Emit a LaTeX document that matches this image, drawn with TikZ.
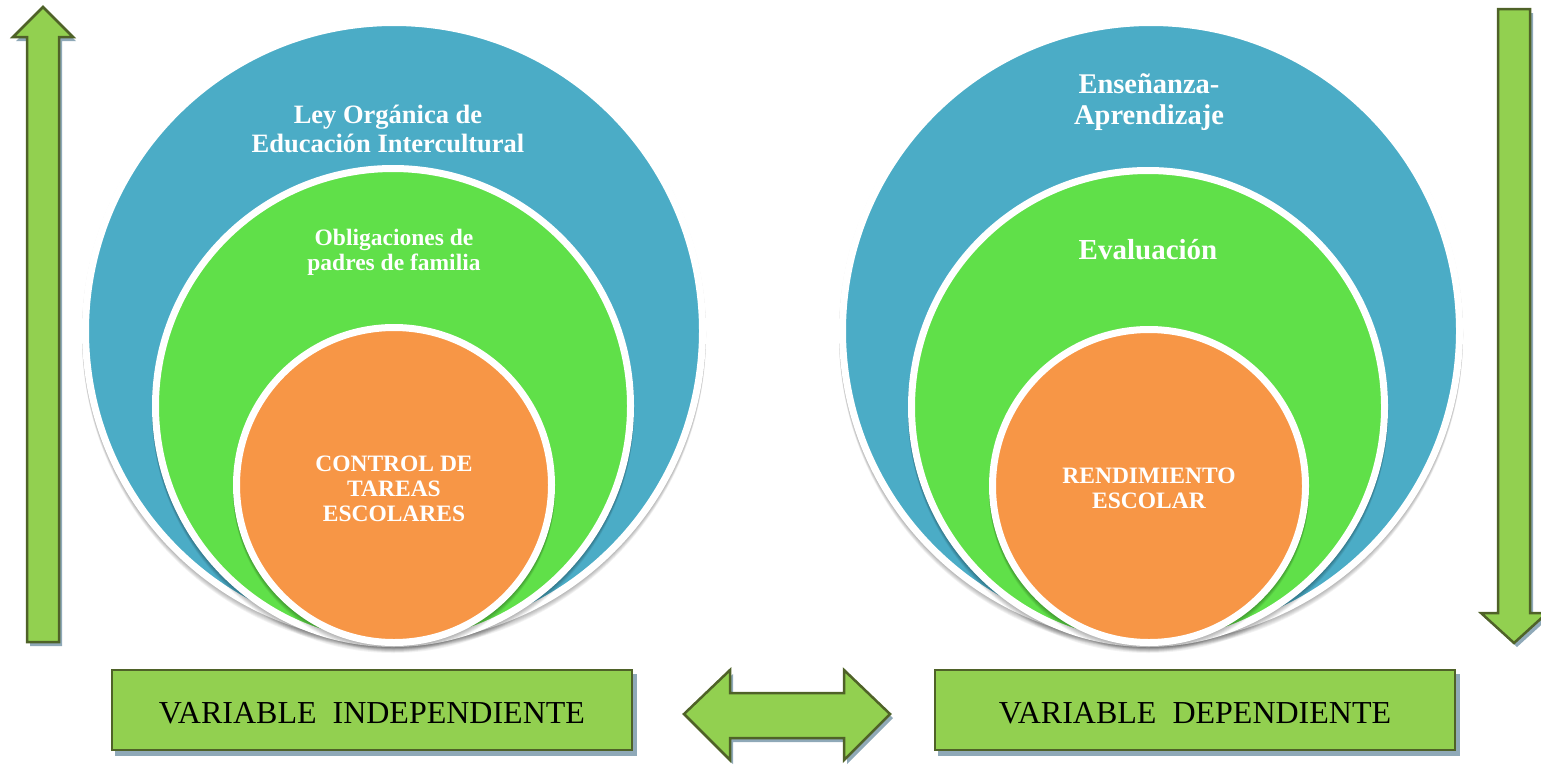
\documentclass[tikz,border=0pt]{standalone}
\usepackage{fontspec}
\setmainfont{Liberation Serif}
\definecolor{cblue}{HTML}{4BACC6}
\definecolor{cgreen}{HTML}{60E049}
\definecolor{corange}{HTML}{F79646}
\definecolor{agreen}{HTML}{92D050}
\definecolor{aline}{HTML}{4F6228}
\definecolor{ashadow}{HTML}{8FA9B8}
\newcommand{\lowertext}[1]{\raisebox{-3pt}[\height][\depth]{#1}}
\begin{document}
\begin{tikzpicture}[x=1pt,y=-1pt,
  ring/.style={circle, draw=white, line width=7pt, inner sep=0pt, outer sep=0pt},
  ctext/.style={text=white, align=center, inner sep=0pt, font=\bfseries},
  blockarrow/.style={fill=agreen, draw=aline, line width=2.5pt, line join=miter},
  blockshadow/.style={fill=ashadow},
  varbox/.style={rectangle, fill=agreen, draw=aline, line width=2.5pt, minimum width=520pt, minimum height=80pt, inner sep=0pt, font=\fontsize{32}{35}\selectfont},
  boxshadow/.style={rectangle, fill=ashadow, minimum width=522pt, minimum height=82pt, inner sep=0pt}
]
\useasboundingbox (0,0) rectangle (1541,766);

% ---------- circles with soft shadows ----------
\foreach \cx/\cy/\r/\col/\nm in {394/331/312/cblue/LA, 393/406/241/cgreen/LB, 394/485/161/corange/LC,
                                  1151/331/312/cblue/RA, 1148/407/240/cgreen/RB, 1149/486/160/corange/RC}{
  \foreach \k in {1,2,3,4,5,6}{
    \fill[black, opacity=0.05] (\cx,\cy+\k) circle (\r);
  }
  \node[ring, fill=\col, minimum size={2*(\r-3.5)}] (\nm) at (\cx,\cy) {};
}

% ---------- circle texts ----------
\node[ctext, font=\bfseries\fontsize{26.5}{29.5}\selectfont] (tLA) at (388,129) {Ley Orgánica de\\Educación Intercultural};
\node[ctext, font=\bfseries\fontsize{23.5}{25}\selectfont] (tLB) at (394,252) {Obligaciones de\\padres de familia};
\node[ctext, font=\bfseries\fontsize{23.5}{25}\selectfont] (tLC) at (394,489) {CONTROL DE\\TAREAS\\ESCOLARES};
\node[ctext, font=\bfseries\fontsize{28.5}{31}\selectfont] (tRA) at (1149,102) {Enseñanza-\\Aprendizaje};
\node[ctext, font=\bfseries\fontsize{29}{30}\selectfont] (tRB) at (1148,250) {Evaluación};
\node[ctext, font=\bfseries\fontsize{23.5}{25}\selectfont] (tRC) at (1149,488) {RENDIMIENTO\\ESCOLAR};

% ---------- up arrow (left) ----------
\fill[blockshadow] (46,11) -- (76,41) -- (62,41) -- (62,646) -- (30,646) -- (30,41) -- (16,41) -- cycle;
\draw[blockarrow] (43,7) -- (73,37) -- (59,37) -- (59,642) -- (27,642) -- (27,37) -- (13,37) -- cycle;

% ---------- down arrow (right) ----------
\fill[blockshadow] (1501,13) -- (1533,13) -- (1533,617) -- (1550,617) -- (1517,647) -- (1484,617) -- (1501,617) -- cycle;
\draw[blockarrow] (1498,9) -- (1530,9) -- (1530,613) -- (1547,613) -- (1514,643) -- (1481,613) -- (1498,613) -- cycle;

% ---------- variable boxes ----------
\node[boxshadow] (sI) at (376,715) {};
\node[boxshadow] (sD) at (1199,715) {};
\node[varbox] (vI) at (372,710) {\lowertext{VARIABLE\ \ INDEPENDIENTE}};
\node[varbox] (vD) at (1195,710) {\lowertext{VARIABLE\ \ DEPENDIENTE}};

% ---------- double arrow ----------
\fill[blockshadow] (687,718) -- (733,674) -- (733,697) -- (847,697) -- (847,674) -- (893,718) -- (847,764) -- (847,742) -- (733,742) -- (733,764) -- cycle;
\draw[blockarrow] (684,714) -- (730,670) -- (730,693) -- (844,693) -- (844,670) -- (890,714) -- (844,760) -- (844,738) -- (730,738) -- (730,760) -- cycle;
\end{tikzpicture}
\end{document}
